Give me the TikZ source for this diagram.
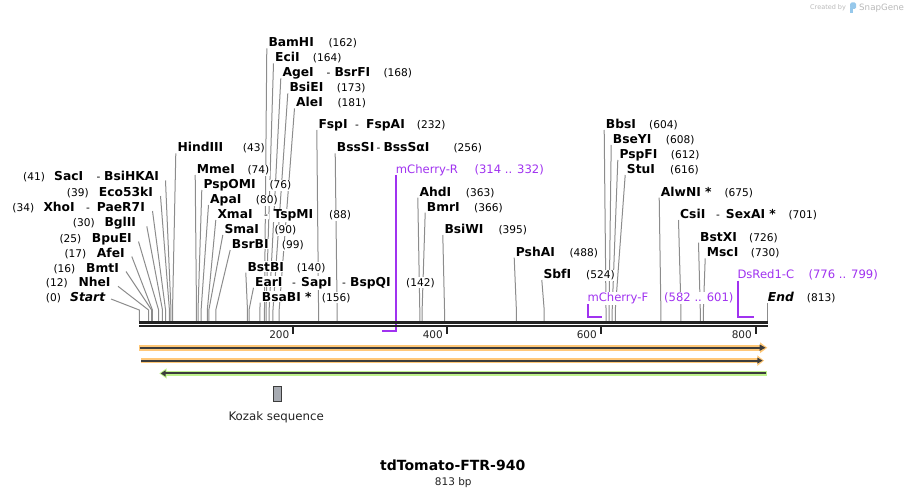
\documentclass[tikz,border=0pt]{standalone}
\usepackage{fontspec}
\setmainfont{DejaVu Sans}
\definecolor{leadgray}{RGB}{140,140,140}
\definecolor{primer}{RGB}{160,50,240}
\definecolor{rulec}{RGB}{34,34,34}
\definecolor{orangeF}{RGB}{255,200,120}
\definecolor{greenF}{RGB}{190,242,140}
\definecolor{darkln}{RGB}{60,60,60}
\definecolor{kozakc}{RGB}{167,171,178}
\definecolor{wmgray}{RGB}{185,185,185}
\definecolor{wmblue}{RGB}{150,200,235}
\newcommand\fnm{\fontsize{12.3}{14}\selectfont\bfseries}
\newcommand\fnu{\fontsize{10.6}{12}\selectfont}
\newcommand\fpr{\fontsize{11.6}{13}\selectfont}
\pgfdeclarelayer{back}
\pgfsetlayers{back,main}
\begin{document}
\begin{tikzpicture}[x=1pt,y=-1pt,
  lbl/.style={anchor=base west, inner xsep=0.8pt, inner ysep=0.8pt, fill=white},
  nm/.style={lbl, font=\fnm},
  nu/.style={lbl, font=\fnu},
  dsh/.style={lbl, font=\fnu},
  nmi/.style={lbl, font=\fnm\itshape},
  prt/.style={lbl, font=\fpr, text=primer},
  ld/.style={draw=leadgray, line width=1pt},
  prl/.style={draw=primer, line width=2pt},
  rul/.style={draw=rulec},
  tick/.style={draw=rulec, line width=2pt},
  ticklbl/.style={font=\fontsize{10.5}{12}\selectfont, anchor=base east, inner sep=0pt, text=rulec}]
\useasboundingbox (0,0) rectangle (907,497);

% ---------------- right-side labels (name then number)
\foreach \id/\p/\lx/\cy/\nlab/\nx/\nnum in {
  bam/162/268.3/42.3/BamHI/328.3/162,
  eci/164/275/57.3/EciI/312.7/164,
  age/168/282.3/72.3/AgeI/383.3/168,
  bsie/173/289.3/87.3/BsiEI/336.7/173,
  ale/181/296/102.3/AleI/337.3/181,
  fsp/232/318.3/124/FspI/416.7/232,
  hind/43/177.3/147.3/HindIII/242.7/43,
  bsss/256/336.7/147.3/BssSI/453.3/256,
  mme/74/196.7/169/MmeI/247.3/74,
  pspo/76/203.3/184/PspOMI/269.3/76,
  apa/80/210/199/ApaI/255.7/80,
  xma/88/217.3/214/XmaI/329/88,
  sma/90/224.3/229/SmaI/274.3/90,
  bsrb/99/231.7/244/BsrBI/281.7/99,
  bstb/140/247.3/266.7/BstBI/296.7/140,
  ear/142/255/281.7/EarI/406/142,
  bsab/156/261.7/296.7/BsaBI */321.7/156,
  ahd/363/419.3/191.7/AhdI/465.7/363,
  bmr/366/426.7/206.7/BmrI/474/366,
  bsiw/395/444.3/229/BsiWI/498.3/395,
  psh/488/515.7/251.7/PshAI/569.3/488,
  sbf/524/543.3/274/SbfI/586/524,
  bbs/604/605.7/124/BbsI/649/604,
  bsey/608/612.7/139/BseYI/665.7/608,
  pspf/612/619.3/154/PspFI/670.7/612,
  stu/616/626.7/169/StuI/670/616,
  alw/675/660.7/191.7/AlwNI */724.3/675,
  csi/701/680/214/CsiI/788.3/701,
  bstx/726/700/236.7/BstXI/749/726,
  msc/730/706.7/252.3/MscI/750.7/730}
{
  \pgfmathsetmacro\sx{139.3+0.7727*\p}
  \pgfmathsetmacro\bl{\cy+4.5}
  \node[nm] (n-\id) at (\lx-0.8,\bl) {\nlab};
  \node[nu] (u-\id) at (\nx-0.8,\bl) {(\nnum)};
  \coordinate (t-\id) at (\lx-1.5,\cy+6);
  \coordinate (s-\id) at (\sx,310);
  \coordinate (r-\id) at (\sx,321);
  \begin{pgfonlayer}{back}
    \draw[ld] (t-\id) -- (s-\id) -- (r-\id);
  \end{pgfonlayer}
}

% extra pieces of multi-name labels
\foreach \id/\x/\cy/\txt/\st in {
  age2/326.4/72.3/-/dsh, age3/334.3/72.3/BsrFI/nm,
  fsp2/355/124/-/dsh, fsp3/366/124/FspAI/nm,
  bsss2/376.5/147.3/-/dsh, bsss3/383.3/147.3/BssSαI/nm,
  xma2/263.8/214/-/dsh, xma3/273.3/214/TspMI/nm,
  ear2/292/281.7/-/dsh, ear3/301/281.7/SapI/nm,
  ear4/342/281.7/-/dsh, ear5/350/281.7/BspQI/nm,
  csi2/715.8/214/-/dsh, csi3/725.7/214/SexAI */nm,
  sac2/96.5/176.5/-/dsh, sac3/104/176.5/BsiHKAI/nm,
  xho2/86/207/-/dsh, xho3/96.7/207/PaeR7I/nm}
{
  \node[\st] (x-\id) at (\x-0.8,\cy+4.5) {\txt};
}

% ---------------- left-side labels (number then name)
\foreach \id/\p/\ex/\cy/\nlab/\lx/\nnum/\nx in {
  sac/41/158/176.5/SacI/54/41/23,
  eco/39/153/192/Eco53kI/98.7/39/66.7,
  xho/34/145/207/XhoI/43.3/34/12.3,
  bgl/30/139.3/222.3/BglII/104.3/30/72.7,
  bpu/25/131/237.5/BpuEI/91.7/25/59.3,
  afe/17/124.3/252.5/AfeI/96.7/17/64.3,
  bmt/16/118.5/267.5/BmtI/86/16/53.3,
  nhe/12/110.5/282.3/NheI/78.3/12/45.7}
{
  \pgfmathsetmacro\sx{139.3+0.7727*\p}
  \pgfmathsetmacro\bl{\cy+4.5}
  \node[nm] (n-\id) at (\lx-0.8,\bl) {\nlab};
  \node[nu] (u-\id) at (\nx-0.8,\bl) {(\nnum)};
  \coordinate (t-\id) at (\ex+7.5,\cy+4);
  \coordinate (s-\id) at (\sx,310);
  \coordinate (r-\id) at (\sx,321);
  \begin{pgfonlayer}{back}
    \draw[ld] (t-\id) -- (s-\id) -- (r-\id);
  \end{pgfonlayer}
}

% Start / End
\node[nmi] (n-start) at (70-0.8,301.2) {Start};
\node[nu] (u-start) at (45.7-0.8,301.2) {(0)};
\coordinate (t-start) at (111,299);
\coordinate (s-start) at (139.3,310);
\coordinate (r-start) at (139.3,321);
\draw[ld] (t-start) -- (s-start) -- (r-start);
\node[nmi] (n-end) at (767.7-0.8,301.8) {End};
\node[nu] (u-end) at (806.7-0.8,301.8) {(813)};
\coordinate (t-end) at (767.5,303);
\coordinate (r-end) at (767.5,321);
\draw[ld] (t-end) -- (r-end);

% ---------------- primers
\node[prt] (p-mR) at (395.7-0.8,173.3) {mCherry-R};
\node[prt] (q-mR) at (474.3-0.8,173.3) {(314 .. 332)};
\coordinate (a-mR) at (395.5,175);
\coordinate (b-mR) at (395.5,330.7);
\coordinate (c-mR) at (381.5,330.7);
\draw[prl] (a-mR) -- (b-mR) -- (c-mR);

\node[prt] (p-mF) at (587.3-0.8,301.5) {mCherry-F};
\node[prt] (q-mF) at (664-0.8,301.5) {(582 .. 601)};
\coordinate (a-mF) at (587.5,304);
\coordinate (b-mF) at (587.5,317.3);
\coordinate (c-mF) at (601.7,317.3);
\draw[prl] (a-mF) -- (b-mF) -- (c-mF);

\node[prt] (p-ds) at (737.3-0.8,278.2) {DsRed1-C};
\node[prt] (q-ds) at (808.3-0.8,278.2) {(776 .. 799)};
\coordinate (a-ds) at (737.5,280.7);
\coordinate (b-ds) at (737.5,317.3);
\coordinate (c-ds) at (754.3,317.3);
\draw[prl] (a-ds) -- (b-ds) -- (c-ds);

% ---------------- ruler
\coordinate (rulA1) at (139,322.5);
\coordinate (rulA2) at (767.5,322.5);
\coordinate (rulB1) at (139,326.2);
\coordinate (rulB2) at (767.5,326.2);
\draw[rul, line width=3pt] (rulA1) -- (rulA2);
\draw[rul, line width=2pt] (rulB1) -- (rulB2);
\foreach \tx/\tl/\le in {292.7/200/289.5, 446.7/400/443, 600.7/600/597, 756/800/752}{
  \coordinate (tk-\tl a) at (\tx,327);
  \coordinate (tk-\tl b) at (\tx,334.3);
  \draw[tick] (tk-\tl a) -- (tk-\tl b);
  \node[ticklbl] (tl-\tl) at (\le,338) {\tl};
}

% ---------------- features
% orange 1
\fill[orangeF] (139,345) rectangle (760.5,350.5);
\fill[orangeF] (760,342.3) -- (767.3,347.7) -- (760,353.2) -- cycle;
\coordinate (o1a) at (139.5,347.7);
\coordinate (o1b) at (761,347.7);
\draw[darkln, line width=2pt] (o1a) -- (o1b);
\fill[darkln] (759.5,344.4) -- (765.5,347.7) -- (759.5,351) -- cycle;
% orange 2
\fill[orangeF] (140.7,357.9) rectangle (758,363.3);
\fill[orangeF] (757.3,355.3) -- (764,360.6) -- (757.3,366) -- cycle;
\coordinate (o2a) at (141.2,360.6);
\coordinate (o2b) at (758.5,360.6);
\draw[darkln, line width=2pt] (o2a) -- (o2b);
\fill[darkln] (757.3,357.5) -- (762.5,360.6) -- (757.3,363.7) -- cycle;
% green
\fill[greenF] (166,370.6) rectangle (767.3,376.2);
\fill[greenF] (166.5,368.3) -- (159.3,373.4) -- (166.5,378.5) -- cycle;
\coordinate (g1a) at (766,373.4);
\coordinate (g1b) at (164.5,373.4);
\draw[darkln, line width=2pt] (g1a) -- (g1b);
\fill[darkln] (165.5,370.3) -- (160.8,373.4) -- (165.5,376.5) -- cycle;

% Kozak
\node[draw=darkln, fill=kozakc, line width=1pt, minimum width=7.4pt, minimum height=15.3pt, inner sep=0pt] (kozak) at (277.5,394.2) {};
\node[font=\fontsize{11.8}{13}\selectfont, anchor=base, inner sep=0pt, text=rulec] (kozaklbl) at (276.2,420) {Kozak sequence};

% title
\node[font=\fontsize{14}{16}\selectfont\bfseries, anchor=base, inner sep=0pt] (title) at (452.7,470) {tdTomato-FTR-940};
\node[font=\fontsize{10.5}{12}\selectfont, anchor=base, inner sep=0pt, text=rulec] (bp) at (453.3,485.5) {813 bp};

% watermark
\node[font=\fontsize{6.5}{8}\selectfont, anchor=base west, inner sep=0pt, text=wmgray] (wm1) at (810,10) {Created by};
\fill[wmblue, rounded corners=1.5pt] (850,2.5) rectangle (856,9);
\fill[wmblue] (850,8) rectangle (852.5,13);
\node[font=\fontsize{8.7}{10}\selectfont, anchor=base west, inner sep=0pt, text=wmgray] (wm2) at (859,10.5) {SnapGene};
\end{tikzpicture}
\end{document}
